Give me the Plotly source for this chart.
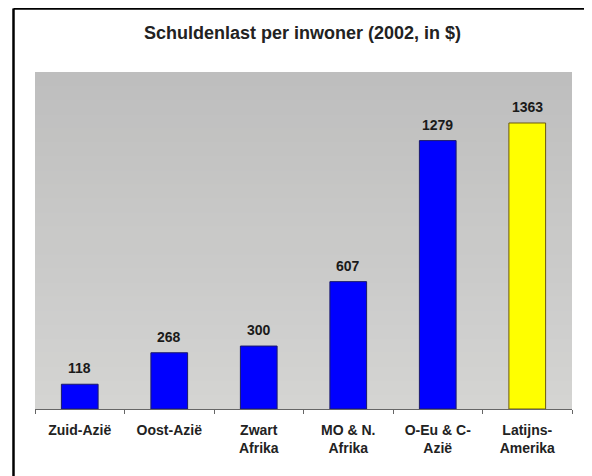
import plotly.graph_objects as go

categories = ["Zuid-Azië", "Oost-Azië", "Zwart<br>Afrika", "MO & N.<br>Afrika", "O-Eu & C-<br>Azië", "Latijns-<br>Amerika"]
values = [118, 268, 300, 607, 1279, 1363]
bar_colors = ["#0000FF", "#0000FF", "#0000FF", "#0000FF", "#0000FF", "#FFFF00"]
edge_colors = ["#1a1a6a", "#1a1a6a", "#1a1a6a", "#1a1a6a", "#1a1a6a", "#6b5a10"]
title_text = "Schuldenlast per inwoner (2002, in $)"

FONT = "Liberation Sans, Arial"
W, H = 592, 476
# the page adds an 8px body margin, so figure coords = reference coords - 8
ml, mr, mt, mb = 27, 28, 64, 75
pw = W - ml - mr
ph = H - mt - mb

fig = go.Figure()
fig.add_trace(go.Bar(
    x=categories, y=values,
    marker=dict(color=bar_colors, line=dict(color=edge_colors, width=1)),
    width=0.41,
    hoverinfo="skip",
))

for c, v in zip(categories, values):
    fig.add_annotation(x=c, y=v, text=f"<b>{v}</b>", showarrow=False,
                       yanchor="bottom", yshift=6,
                       font=dict(family=FONT, size=14, color="#1a1a1a"))

# grey gradient background (styling bands, overlapping to avoid seams)
shapes = []
n = 24
top = (190, 190, 190)
bot = (212, 212, 210)
for i in range(n):
    t = i / (n - 1)
    col = tuple(int(round(top[k] + (bot[k] - top[k]) * t)) for k in range(3))
    y1 = 1 - i / n
    y0 = max(0, 1 - (i + 1) / n - 0.01)
    shapes.append(dict(type="rect", xref="paper", yref="paper",
                       x0=0, x1=1, y0=y0, y1=y1,
                       fillcolor=f"rgb{col}", line=dict(width=0), layer="below"))

# outer black frame (left & top)
fx = 5.5 / pw * -1 * -1  # placeholder replaced below
fx = (5.5 - ml) / pw
fy = (ph + mt - 0.5) / ph
shapes.append(dict(type="line", xref="paper", yref="paper", x0=fx, x1=1.2, y0=fy, y1=fy,
                   line=dict(color="black", width=2.5)))
shapes.append(dict(type="line", xref="paper", yref="paper", x0=fx, x1=fx, y0=fy, y1=-0.5,
                   line=dict(color="black", width=2.5)))

fig.update_layout(
    width=W, height=H,
    margin=dict(l=ml, r=mr, t=mt, b=mb),
    paper_bgcolor="white",
    plot_bgcolor="rgb(200,200,200)",
    shapes=shapes,
    showlegend=False,
    title=dict(text=f"<b>{title_text}</b>", x=294.5 / W, xanchor="center",
               y=1 - 25 / H, yanchor="middle", yref="container",
               font=dict(family=FONT, size=18, color="#222")),
    font=dict(family=FONT, color="#222"),
)
fig.update_xaxes(
    showline=True, linecolor="#666", linewidth=1,
    ticks="outside", tickson="boundaries", ticklen=4, tickcolor="#666",
    ticklabelstandoff=8,
    tickfont=dict(size=14, family=FONT, color="#222", weight="bold"),
    showgrid=False,
)
fig.update_yaxes(range=[0, 1606], visible=False, showgrid=False, zeroline=False)

fig.write_html("out.html")
